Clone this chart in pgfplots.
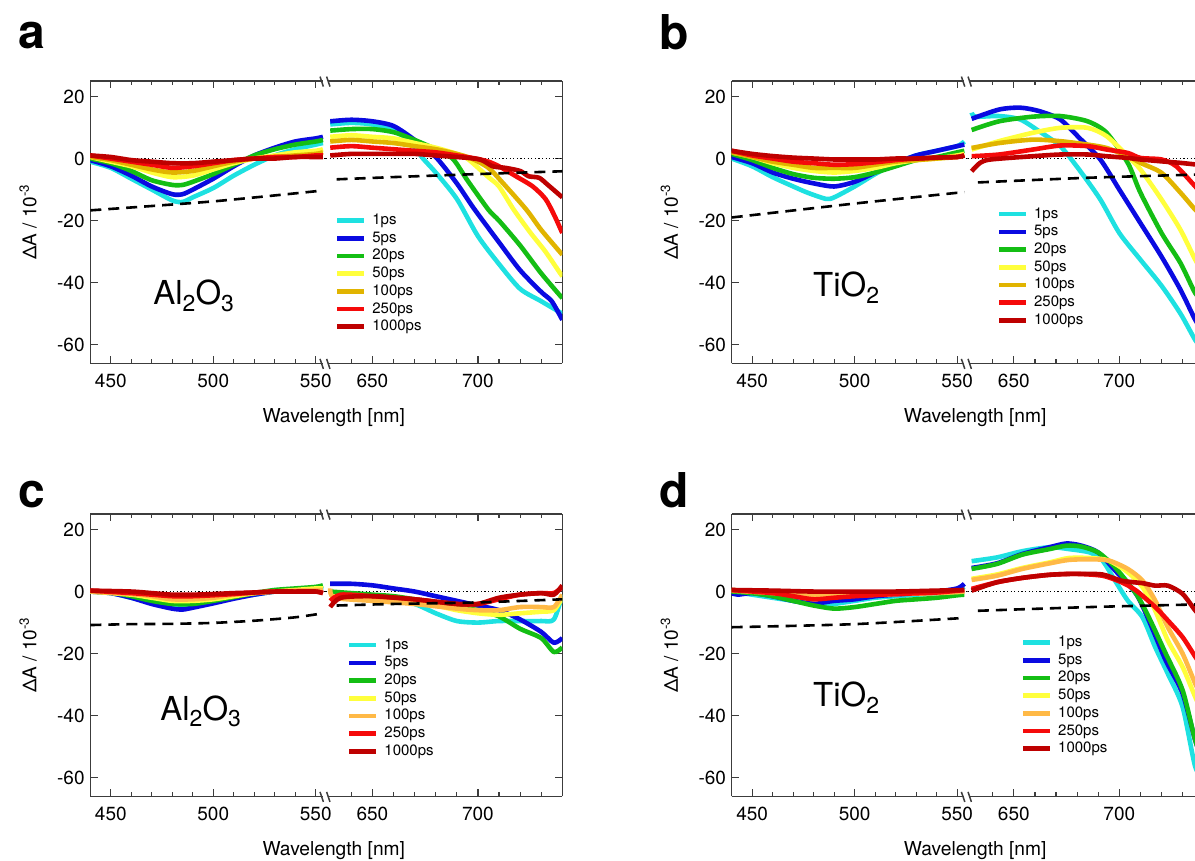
\documentclass[border=0pt]{standalone}
\usepackage{pgfplots}
\pgfplotsset{compat=1.18}
\usepackage{fontspec}
\setmainfont{TeX Gyre Heros}
\definecolor{c1}{RGB}{30,225,225}
\definecolor{c5}{RGB}{10,10,225}
\definecolor{c20}{RGB}{20,190,20}
\definecolor{c50}{RGB}{255,255,60}
\definecolor{c100a}{RGB}{225,180,0}
\definecolor{c100c}{RGB}{255,185,70}
\definecolor{c250}{RGB}{245,10,10}
\definecolor{c1000}{RGB}{190,0,0}
\definecolor{frm}{RGB}{60,60,60}
\pgfplotsset{
  every non boxed y axis/.style={},
  every non boxed x axis/.style={},
  base/.style={scale only axis, height=141.15pt, ymin=-66, ymax=25, ytick={-60,-40,-20,0,20},
    tick align=inside, major tick length=3.6pt, minor tick length=2pt,
    axis line style={line width=0.6pt, draw=frm, -},
    every tick/.style={line width=0.6pt, frm},
    tick label style={font=\fontsize{9.5}{11}\selectfont},
    /pgf/number format/assume math mode=true,
    xticklabel style={anchor=base, yshift=-12pt, inner sep=0pt},
    every axis plot/.append style={line width=2.3pt, line join=round, smooth, tension=0.45},
  },
  segL/.style={base, width=117.85pt, xmin=440, xmax=555, xtick={450,500,550},
    minor xtick={460,470,480,490,510,520,530,540}, axis x line=box, axis y line=left,
    y axis line style={-}, ytick align=inside,
    yticklabel style={anchor=east, inner sep=0pt, xshift=-2.65pt}},
  segR/.style={base, width=118.15pt, xmin=628, xmax=740, xtick={650,700},
    minor xtick={640,660,670,680,690,710,720,730}, axis x line=box, axis y line=right, yticklabels={},
    y axis line style={-}, ytick align=inside,
    legend cell align=left,
    legend image code/.code={\draw[##1, line width=2.3pt] (0pt,0pt) -- (13.4pt,0pt);},
    legend style={draw=none, fill=none, inner sep=0pt, outer sep=0pt, row sep=1.65pt, column sep=3pt,
      font=\fontsize{7.5}{8}\selectfont, nodes={inner sep=0pt, text height=5.6pt, text depth=1.6pt}, anchor=north west}},
  zl/.style={black, line width=0.6pt, dash pattern=on 0.6pt off 1.2pt, forget plot, sharp plot},
  dl/.style={black, line width=1.3pt, dash pattern=on 5.5pt off 3.5pt, forget plot},
}
\newcommand{\brk}[2]{%
  \draw[white, line width=2pt] ({#1pt-1.5pt},{#2pt}) -- ({#1pt+1.2pt},{#2pt});
  \draw[frm, line width=0.75pt] ({#1pt-3pt},{#2pt+2.2pt}) -- ({#1pt-1.3pt},{#2pt-2.8pt});
  \draw[frm, line width=0.75pt] ({#1pt+0.3pt},{#2pt+2.2pt}) -- ({#1pt+2pt},{#2pt-2.8pt});}
\newcommand{\ylab}[2]{\node[rotate=90, anchor=base, inner sep=0pt, font=\fontsize{9.5}{11}\selectfont] at (#1pt,#2pt) {ΔA / 10\textsuperscript{-3}};}
\newcommand{\xlab}[2]{\node[anchor=base, inner sep=0pt, font=\fontsize{9.6}{11}\selectfont] at (#1pt,#2pt) {Wavelength [nm]};}
\newcommand{\sub}[1]{\raisebox{-3.3pt}{\fontsize{11.5}{12}\selectfont #1}}
\begin{document}
\begin{tikzpicture}
\useasboundingbox (0,0) rectangle (597.5pt,-430.5pt);
\clip (0,0) rectangle (597.5pt,-430.5pt);
% ================= panel a =================
\begin{axis}[segL, at={(45.15pt,-40.5pt)}, anchor=north west]
\addplot[zl] coordinates {(440,0) (555,0)};
\addplot[c1] coordinates {(440,-1)(450,-3)(460,-6.5)(470,-10)(480,-13.5)(485,-14)(490,-12.5)(500,-9.5)(510,-5.5)(520,-2)(530,1)(540,3)(550,4.5)(553.5,5)};
\addplot[c5] coordinates {(440,-0.5)(450,-2.5)(460,-5.5)(470,-9)(480,-11.5)(485,-11.5)(490,-10)(500,-6.5)(510,-2.5)(520,1)(530,3.5)(540,5.5)(550,6.5)(553.5,7)};
\addplot[c20] coordinates {(440,0)(450,-1.5)(460,-4)(470,-7)(480,-8.5)(485,-8.5)(490,-7.5)(500,-5)(510,-2)(520,1)(530,3)(540,4.5)(550,5.5)(553.5,6)};
\addplot[c50] coordinates {(440,0.5)(450,-1)(460,-2.5)(470,-4.5)(480,-6)(490,-5.5)(500,-3.5)(510,-1.5)(520,0)(530,1)(540,2)(550,2.5)(553.5,3)};
\addplot[c100a] coordinates {(440,0.5)(450,-0.5)(460,-2)(470,-3.5)(480,-4.5)(490,-4)(500,-2.5)(510,-1)(520,0)(530,0.5)(540,1)(550,1.5)(553.5,2)};
\addplot[c250] coordinates {(440,1)(450,0)(460,-1)(470,-2)(480,-3)(490,-2.5)(500,-1.5)(510,-0.5)(520,0)(530,0.5)(540,0.5)(550,1)(553.5,1)};
\addplot[c1000] coordinates {(440,1)(450,0.5)(460,-0.5)(470,-1)(480,-1.5)(490,-1.5)(500,-1)(510,-0.5)(520,0)(530,0)(540,0.5)(550,0.5)(553.5,0.5)};
\addplot[dl] coordinates {(440,-16.7)(500,-13.8)(553.5,-10.3)};
\end{axis}
\begin{axis}[segR, at={(163pt,-40.5pt)}, anchor=north west,
  legend style={at={(axis description cs:0.038,0.531)}}]
\addplot[zl] coordinates {(628,0) (740,0)};
\addplot[c1] coordinates {(630,11)(640,11.5)(650,11)(660,9)(667,6)(674,0)(680,-4.5)(690,-13)(700,-25)(710,-34)(720,-42)(730,-46)(740,-50)};
\addplot[c5] coordinates {(630,12)(640,12.5)(650,12)(660,10.5)(670,6)(680,0.5)(690,-8)(698,-16)(710,-27)(720,-36)(730,-43)(735,-46)(740,-52)};
\addplot[c20] coordinates {(630,9)(640,9.5)(650,9.5)(660,8.5)(670,6)(680,3)(688,0)(695,-7)(705,-16.5)(710,-20)(720,-28)(730,-37)(740,-45)};
\addplot[c50] coordinates {(630,7)(640,7.5)(650,7)(660,6.5)(670,5)(680,3.5)(690,1.5)(695,0)(705,-6)(710,-9)(717,-16.5)(725,-24)(732,-30)(740,-38)};
\addplot[c100a] coordinates {(630,5.5)(640,6)(650,5.5)(660,5)(670,4)(680,3)(690,1.5)(697,0)(705,-3)(712,-8)(723,-16.5)(730,-23)(740,-31)};
\addplot[c250] coordinates {(630,3.5)(640,4)(650,3.5)(660,3)(670,2.5)(680,2)(690,1)(699,0)(705,-1)(710,-2.5)(718,-5.7)(726,-9)(732,-13)(736,-18)(740,-24)};
\addplot[c1000] coordinates {(630,1)(640,1.5)(650,1.5)(660,1.5)(670,1.5)(680,1)(690,0.5)(701,-0.3)(707,-2.5)(713,-3)(720,-4)(724,-5.7)(729,-6.2)(733,-8.4)(740,-12.5)};
\addplot[dl] coordinates {(633,-6.7)(663,-5.9)(700,-5)(740,-4.1)};
\legend{1ps,5ps,20ps,50ps,100ps,250ps,1000ps}
\end{axis}
% ================= panel b =================
\begin{axis}[segL, at={(365.85pt,-40.5pt)}, anchor=north west]
\addplot[zl] coordinates {(440,0) (555,0)};
\addplot[c1] coordinates {(440,0)(450,-2.5)(460,-6)(470,-9)(477,-11)(486,-13)(490,-12.5)(500,-9)(510,-5)(520,-1.5)(530,1)(540,2.5)(550,4)(553.5,5.5)};
\addplot[c5] coordinates {(440,0.5)(450,-1.5)(460,-4.5)(470,-6.5)(480,-8)(490,-9)(500,-7.5)(510,-4.5)(520,-1.5)(530,1)(540,2.5)(550,4)(553.5,4.5)};
\addplot[c20] coordinates {(440,1.5)(450,-0.5)(460,-3)(470,-5)(480,-6.2)(490,-6.5)(500,-6)(510,-4.5)(520,-2.5)(530,-0.5)(540,0.5)(550,2)(553.5,2.5)};
\addplot[c50] coordinates {(440,2)(450,0.5)(460,-1.5)(470,-3)(480,-4)(490,-4.5)(500,-4)(510,-3)(520,-1.5)(530,-0.5)(540,0)(550,1)(553.5,1.5)};
\addplot[c100a] coordinates {(440,2)(450,0.5)(460,-1)(470,-2)(480,-3)(490,-3)(500,-3)(510,-2)(520,-1)(530,-0.5)(540,0)(550,0.5)(553.5,1)};
\addplot[c250] coordinates {(440,2.5)(450,1)(460,0)(470,-1)(480,-1.5)(490,-2)(500,-1.8)(510,-1.2)(520,-0.5)(530,0)(540,0.3)(550,0.5)(553.5,1)};
\addplot[c1000] coordinates {(440,2.5)(450,1.5)(460,0.8)(470,0.3)(480,0)(490,-0.3)(500,-0.3)(510,-0.3)(520,0)(530,0)(540,0.3)(550,0.5)(553.5,1)};
\addplot[dl] coordinates {(440,-19)(500,-14.5)(553.5,-10.8)};
\end{axis}
\begin{axis}[segR, at={(483.7pt,-40.5pt)}, anchor=north west,
  legend style={at={(axis description cs:0.124,0.554)}}]
\addplot[zl] coordinates {(628,0) (740,0)};
\addplot[c1] coordinates {(630,14.8)(632,13.5)(643,13.7)(653,12.6)(662,8.8)(672,4)(681,-3.6)(691,-13.2)(700,-24)(710,-32.6)(720,-41)(729,-50)(736,-58.5)(740,-62)};
\addplot[c5] coordinates {(630,12.8)(643,15.8)(653,16.4)(662,15.3)(672,12.6)(681,6.7)(691,-0.3)(700,-10)(710,-20.8)(720,-31.6)(729,-42.3)(736,-52)(740,-56)};
\addplot[c20] coordinates {(630,9.2)(643,12)(659,13.5)(672,13.7)(685,12)(694,8.3)(704,-1.4)(710,-11)(720,-24)(729,-33.7)(736,-43.4)(740,-46)};
\addplot[c50] coordinates {(630,2.9)(643,5.6)(659,8.3)(672,9.9)(685,9.9)(694,7.2)(704,0.75)(710,-3.5)(720,-13.2)(729,-23)(736,-32.6)(740,-37)};
\addplot[c100a] coordinates {(630,3.4)(643,5)(659,6.1)(672,5.6)(685,4.5)(694,3.4)(704,0.75)(710,-1.4)(720,-4.6)(729,-11)(736,-16.5)(740,-19)};
\addplot[c250] coordinates {(630,0.75)(643,1.3)(659,2.9)(672,4.2)(685,4)(694,2.9)(704,1.8)(710,0.2)(720,-0.3)(727,-2.5)(736,-9)(740,-12)};
\addplot[c1000] coordinates {(630,-4.1)(634,-1.4)(639,-0.3)(659,0.75)(672,1.3)(685,1.3)(694,0.75)(704,0.2)(710,-0.3)(720,-0.9)(729,-1.4)(736,-1.9)(740,-2.2)};
\addplot[dl] coordinates {(633,-7.7)(685,-6.2)(740,-5.1)};
\legend{1ps,5ps,20ps,50ps,100ps,250ps,1000ps}
\end{axis}
% ================= panel c =================
\begin{axis}[segL, at={(45.15pt,-257pt)}, anchor=north west]
\addplot[zl] coordinates {(440,0) (555,0)};
\addplot[c1] coordinates {(440,0)(450,-0.5)(460,-2)(470,-3.5)(480,-4.5)(490,-4.5)(500,-3)(510,-2)(520,-1)(530,0)(540,0.5)(550,1)(553.5,1.5)};
\addplot[c5] coordinates {(440,0)(450,-0.5)(460,-2)(470,-4)(480,-5.5)(485,-5.8)(490,-5.2)(500,-3.8)(510,-2.3)(520,-1)(530,0)(540,0.5)(550,0.8)(553.5,1)};
\addplot[c20] coordinates {(440,0)(450,-0.3)(460,-1.5)(470,-3)(480,-4)(490,-4)(500,-3)(510,-1.8)(520,-0.5)(530,0.5)(540,1)(550,1.5)(553.5,2)};
\addplot[c50] coordinates {(440,0)(460,-1)(470,-2)(480,-3)(490,-3)(500,-2.5)(510,-1.5)(520,-0.5)(530,0)(540,0.5)(550,1)(553.5,1)};
\addplot[c100c] coordinates {(440,0)(460,-0.8)(470,-1.5)(480,-2.5)(490,-2.5)(500,-2)(510,-1)(520,-0.5)(530,0)(540,0.3)(550,0.5)(553.5,0.5)};
\addplot[c250] coordinates {(440,0.3)(460,-0.5)(470,-1)(480,-1.5)(490,-1.5)(500,-1.2)(510,-0.8)(520,-0.3)(530,0)(540,0)(550,0)(553.5,-0.5)};
\addplot[c1000] coordinates {(440,0.3)(460,0)(470,-0.5)(480,-1)(490,-1)(500,-0.8)(510,-0.5)(520,-0.3)(530,0)(540,0)(550,0)(553.5,-0.5)};
\addplot[dl] coordinates {(440,-10.8)(460,-10.5)(480,-10.4)(500,-10.1)(520,-9.4)(540,-8.3)(553.5,-7)};
\end{axis}
\begin{axis}[segR, at={(163pt,-257pt)}, anchor=north west,
  legend style={at={(axis description cs:0.089,0.561)}}]
\addplot[zl] coordinates {(628,0) (740,0)};
\addplot[c1] coordinates {(630,-1)(640,-1.5)(650,-2)(660,-3)(670,-4)(680,-7)(690,-9.5)(700,-10)(710,-9.5)(720,-9.5)(730,-9.5)(736,-9)(740,-1)};
\addplot[c5] coordinates {(630,2.5)(640,2.5)(650,2)(660,1)(670,0)(680,-1.5)(690,-3)(700,-4.5)(710,-6)(720,-9)(730,-13)(736,-16.5)(740,-15)};
\addplot[c20] coordinates {(630,0)(640,-0.5)(650,-1)(660,-1.5)(670,-2.5)(680,-3.5)(690,-5)(700,-6)(710,-8)(720,-12)(730,-15)(736,-19.5)(740,-18)};
\addplot[c50] coordinates {(630,-1.5)(650,-2.5)(670,-3.5)(680,-4.5)(690,-6)(700,-7)(710,-7.5)(720,-7)(730,-6.5)(736,-6)(740,-2)};
\addplot[c100c] coordinates {(630,1)(632,-2)(650,-3)(670,-4)(690,-5.5)(700,-6)(710,-6)(720,-5)(730,-5)(736,-5)(740,-1)};
\addplot[c250] coordinates {(630,-3)(635,-1)(650,-1.5)(670,-2.5)(690,-4)(700,-4)(710,-2.5)(720,-1)(730,-0.5)(736,-0.5)(740,1.5)};
\addplot[c1000] coordinates {(630,-5)(635,-2)(650,-1.5)(670,-2.5)(690,-4)(700,-4)(710,-2)(720,-1)(730,-0.5)(736,-1)(740,2)};
\addplot[dl] coordinates {(633,-4.5)(660,-4)(700,-3.5)(740,-2.5)};
\legend{1ps,5ps,20ps,50ps,100ps,250ps,1000ps}
\end{axis}
% ================= panel d =================
\begin{axis}[segL, at={(365.85pt,-257pt)}, anchor=north west]
\addplot[zl] coordinates {(440,0) (555,0)};
\addplot[c1] coordinates {(440,0)(450,-1)(460,-2)(470,-3)(480,-4)(485,-4.5)(490,-4)(500,-3)(510,-2)(520,-1.5)(530,-1)(540,-0.5)(550,0.5)(553.5,1.5)};
\addplot[c5] coordinates {(440,-0.5)(443,-1)(450,-0.5)(460,-1.5)(470,-3)(480,-4)(485,-3.5)(490,-3)(500,-2.5)(510,-1.5)(520,-1)(530,-0.5)(540,0)(550,1)(553.5,2.5)};
\addplot[c20] coordinates {(440,0)(450,-0.5)(460,-1.5)(470,-3)(480,-4.5)(490,-5.5)(500,-5)(510,-4)(520,-3)(530,-2.5)(540,-2)(550,-1.2)(553.5,-1)};
\addplot[c50] coordinates {(440,0.5)(460,-0.3)(480,-1.5)(490,-1.5)(500,-1.2)(520,-0.8)(540,-0.3)(553.5,0)};
\addplot[c100c] coordinates {(440,0.3)(460,-0.5)(480,-1.5)(490,-1.5)(500,-1.2)(520,-0.8)(540,-0.5)(553.5,0)};
\addplot[c250] coordinates {(440,0.5)(460,-0.5)(470,-1.5)(480,-2.5)(490,-2)(500,-1.5)(520,-0.8)(540,-0.3)(553.5,0.5)};
\addplot[c1000] coordinates {(440,0.5)(460,0.3)(480,0)(500,0)(520,0)(540,0.3)(553.5,0.5)};
\addplot[dl] coordinates {(440,-11.5)(500,-10.5)(553.5,-8.5)};
\end{axis}
\begin{axis}[segR, at={(483.7pt,-257pt)}, anchor=north west,
  legend style={at={(axis description cs:0.226,0.570)}}]
\addplot[zl] coordinates {(628,0) (740,0)};
\addplot[c1] coordinates {(630,9.8)(642,11)(654,13)(667,14.3)(676,13.7)(686,12.6)(692,10)(698,3.5)(704,-2.9)(711,-8.3)(717,-17.9)(723,-26.5)(730,-37.2)(736,-56.5)(740,-60)};
\addplot[c5] coordinates {(630,7.6)(642,9.1)(654,12.1)(667,14.3)(675,15.5)(682,14.8)(690,12.6)(698,6.8)(708,-0.75)(714,-9.3)(722,-22.2)(730,-32.9)(736,-48)(740,-55)};
\addplot[c20] coordinates {(630,7.3)(642,8.9)(654,11.9)(667,13.7)(675,14.8)(682,14.5)(690,12.6)(698,7.8)(708,-0.75)(714,-8.3)(722,-20)(730,-31.8)(736,-48)(740,-55)};
\addplot[c50] coordinates {(630,4.1)(642,5.5)(654,7.6)(667,9.4)(676,10.8)(686,10.8)(695,10)(704,6.2)(711,1.4)(717,-6.1)(723,-15.8)(730,-24.3)(736,-34)(740,-40)};
\addplot[c100c] coordinates {(630,3.75)(642,5.1)(654,7.3)(667,9.1)(676,10.2)(686,10.4)(695,10)(704,7.3)(711,3.5)(717,-2.9)(723,-11.5)(730,-20)(736,-29.7)(740,-35)};
\addplot[c250] coordinates {(630,0.86)(642,3)(654,4.4)(667,5.4)(679,5.7)(692,5.1)(701,3)(708,0.3)(717,-5)(723,-9.3)(730,-14.7)(736,-21)(740,-25)};
\addplot[c1000] coordinates {(630,0.3)(642,3)(654,4.4)(667,5.4)(679,5.7)(692,5.5)(701,3.5)(711,2.7)(717,1.9)(723,1.9)(730,-0.75)(736,-6.1)(740,-9)};
\addplot[dl] coordinates {(633,-6.2)(686,-5)(740,-4.1)};
\legend{1ps,5ps,20ps,50ps,100ps,250ps,1000ps}
\end{axis}
% ================= decorations =================
\brk{163}{-40.5}\brk{163}{-181.65}
\brk{483.7}{-40.5}\brk{483.7}{-181.65}
\brk{163}{-257}\brk{163}{-398.15}
\brk{483.7}{-257}\brk{483.7}{-398.15}
\ylab{18.2}{-111}\ylab{338.9}{-111}\ylab{18.2}{-327.5}\ylab{338.9}{-327.5}
\xlab{166.9}{-211.35}\xlab{487.6}{-211.35}\xlab{166.9}{-427.85}\xlab{487.6}{-427.85}
\node[anchor=base west, inner sep=0pt, font=\bfseries\fontsize{24}{24}\selectfont] at (9.2pt,-24.5pt) {a};
\node[anchor=base west, inner sep=0pt, font=\bfseries\fontsize{24}{24}\selectfont] at (329.5pt,-25pt) {b};
\node[anchor=base west, inner sep=0pt, font=\bfseries\fontsize{24}{24}\selectfont] at (9.2pt,-254pt) {c};
\node[anchor=base west, inner sep=0pt, font=\bfseries\fontsize{24}{24}\selectfont] at (329.5pt,-254pt) {d};
\node[anchor=base west, inner sep=0pt, font=\fontsize{16.5}{18}\selectfont] at (76.5pt,-152.5pt) {Al\sub{2}O\sub{3}};
\node[anchor=base west, inner sep=0pt, font=\fontsize{16.5}{18}\selectfont] at (406.4pt,-148.35pt) {TiO\sub{2}};
\node[anchor=base west, inner sep=0pt, font=\fontsize{16.5}{18}\selectfont] at (80pt,-360pt) {Al\sub{2}O\sub{3}};
\node[anchor=base west, inner sep=0pt, font=\fontsize{16.5}{18}\selectfont] at (406.4pt,-353.35pt) {TiO\sub{2}};
\end{tikzpicture}
\end{document}
